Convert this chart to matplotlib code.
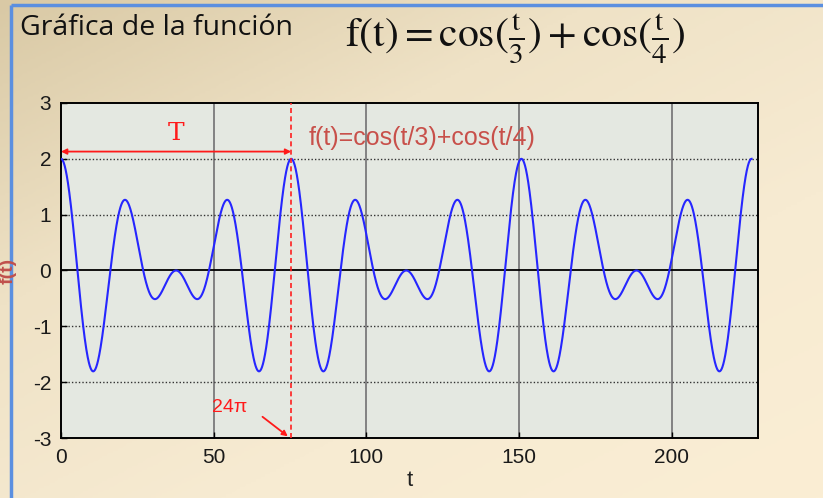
import numpy as np
import matplotlib
matplotlib.use("Agg")
import matplotlib.pyplot as plt
from matplotlib.colors import LinearSegmentedColormap

# ---- data ----
title_text = "Gráfica de la función"
formula_text = r"$\mathrm{f(t)} = \mathrm{cos}(\frac{\mathrm{t}}{3}) + \mathrm{cos}(\frac{\mathrm{t}}{4})$"
legend_text = "f(t)=cos(t/3)+cos(t/4)"
period_label = "T"
period_value_label = "24π"
divisors = [3, 4]                 # f(t) = cos(t/3) + cos(t/4)
t_start = 0.0
t_end = 72 * np.pi                # curve drawn up to ~226
period = 24 * np.pi               # T = 24π ≈ 75.4
xticks = [0, 50, 100, 150, 200]
yticks = [-3, -2, -1, 0, 1, 2, 3]

t = np.linspace(t_start, t_end, 3000)
f = sum(np.cos(t / d) for d in divisors)

plt.rcParams["axes.unicode_minus"] = False
plt.rcParams["mathtext.fontset"] = "stix"

# ---- figure ----
W, H = 823, 498
fig = plt.figure(figsize=(W / 100, H / 100), dpi=100)

# background gradient
bg = fig.add_axes([0, 0, 1, 1], zorder=-10)
yy, xx = np.mgrid[0:1:200j, 0:1:300j]
g = (xx * 0.55 + yy * 0.65)
cmap = LinearSegmentedColormap.from_list("bg", ["#d9c9a5", "#efe2c6", "#f7ebd2", "#fbeed4"])
bg.imshow(g, cmap=cmap, aspect="auto", extent=[0, 1, 0, 1], origin="upper")
bg.set_xlim(0, 1)
bg.set_ylim(0, 1)
bg.axis("off")
# blue frame lines (top and left)
bg.plot([11 / W, 11 / W], [0, 1 - 5 / H], color="#5b8fe0", lw=2.5, solid_capstyle="butt")
bg.plot([11 / W, 1], [1 - 5 / H, 1 - 5 / H], color="#5b8fe0", lw=2.5, solid_capstyle="butt")

fig.text(20 / W, 1 - 28 / H, title_text, fontsize=20.5, family="Open Sans",
         va="center", ha="left", color="#111111")
fig.text(345 / W, 1 - 38 / H, formula_text, fontsize=30, va="center", ha="left",
         color="#111111")

# main axes
ax = fig.add_axes([61 / W, 1 - 438 / H, (758 - 61) / W, (438 - 103) / H])
ax.set_facecolor("#e4e8e1")
ax.set_xlim(0, 228.3)
ax.set_ylim(-3, 3)

for xv in xticks[1:]:
    ax.axvline(xv, color="#7a7a7a", lw=1.3, zorder=1)
for yv in [-2, -1, 1, 2]:
    ax.axhline(yv, color="#333333", lw=1.0, ls=(0, (1, 1.5)), zorder=1)
ax.axhline(0, color="black", lw=1.3, zorder=1)

ax.plot(t, f, color="#2626ff", lw=1.5, zorder=3)

# period marker
ax.axvline(period, color="#ff2020", lw=1.2, ls=(0, (3, 2)), zorder=4)
ax.annotate("", xy=(period, 2.13), xytext=(0, 2.13),
            arrowprops=dict(arrowstyle="<|-|>", color="#ff1a1a", lw=1.3,
                            mutation_scale=8, shrinkA=0, shrinkB=0), zorder=5)
ax.text(period / 2, 2.45, period_label, color="#ff1a1a", fontsize=18,
        family="DejaVu Serif", ha="center", va="center")
ax.text(81, 2.38, legend_text, color="#c8504a", fontsize=18, family="Liberation Sans",
        ha="left", va="center")
ax.text(49.5, -2.45, period_value_label, color="#ff1a1a", fontsize=14,
        family="Liberation Sans", ha="left", va="center")
ax.annotate("", xy=(74.3, -2.97), xytext=(66, -2.62),
            arrowprops=dict(arrowstyle="-|>", color="#ff1a1a", lw=1.3,
                            mutation_scale=8, shrinkA=0, shrinkB=0))

ax.set_xticks(xticks)
ax.set_yticks(yticks)
ax.tick_params(direction="in", length=4, width=1, labelsize=15, pad=7,
               colors="black")
for lab in ax.get_xticklabels() + ax.get_yticklabels():
    lab.set_family("Liberation Sans")
    lab.set_color("#1a1a1a")
for s in ax.spines.values():
    s.set_linewidth(1.4)
    s.set_color("black")

ax.set_xlabel("t", fontsize=16, family="Liberation Sans", labelpad=2, color="#222222")
ax.set_ylabel("f(t)", fontsize=14, family="Liberation Sans", color="#c0504d",
              fontweight="bold")
ax.yaxis.set_label_coords(-44 / 697, 0.5)

fig.savefig("out.png", dpi=100)
